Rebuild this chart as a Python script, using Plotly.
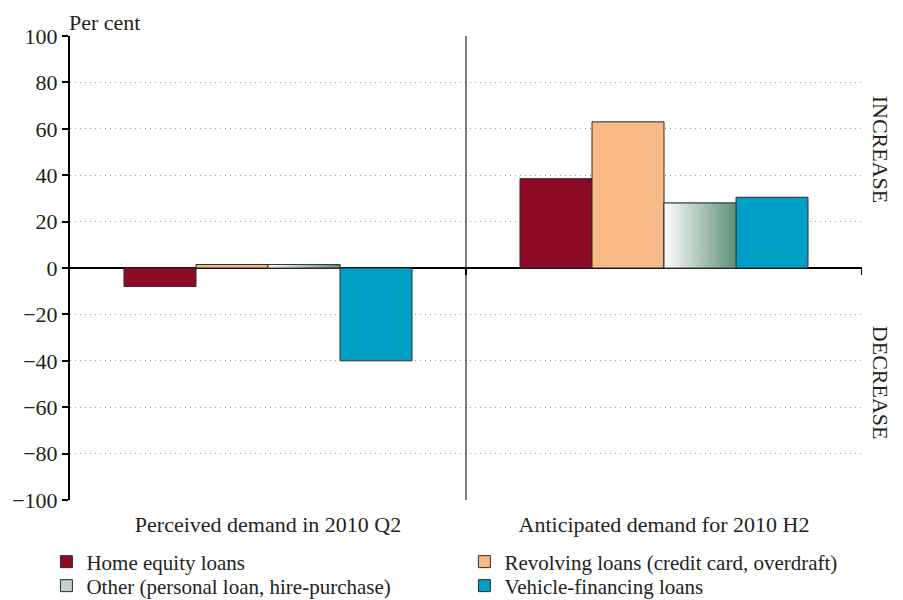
import plotly.graph_objects as go

categories = ["Perceived demand in 2010 Q2", "Anticipated demand for 2010 H2"]
home_equity = [-8, 38.5]
revolving = [1.5, 63]
other = [1.5, 28]
vehicle = [-40, 30.5]
y_ticks = [-100, -80, -60, -40, -20, 0, 20, 40, 60, 80, 100]

FONT = "Liberation Serif"
TXT = "#231f20"
FS = 22
group_w = 0.7273
bar_w = group_w / 4
offsets = [-group_w / 2 + i * bar_w for i in range(4)]
xpos = list(range(len(categories)))

fig = go.Figure()

def add_bar(vals, name, color, idx, legend):
    fig.add_trace(go.Bar(
        x=xpos, y=vals, name=name, width=bar_w, offset=offsets[idx],
        marker=dict(color=color, line=dict(color="#2b2b2b", width=1)),
        legend=legend,
    ))

add_bar(home_equity, "Home equity loans", "#8c0a26", 0, "legend")
add_bar(revolving, "Revolving loans (credit card, overdraft)", "#f7b985", 1, "legend2")
add_bar(other, "Other (personal loan, hire-purchase)", "#bcd3c5", 2, "legend3")

# gradient overlay for the "Other" bars
for g, v in enumerate(other):
    x0 = xpos[g] + offsets[2]
    x1 = x0 + bar_w
    fig.add_trace(go.Scatter(
        x=[x0, x1, x1, x0, x0], y=[0, 0, v, v, 0],
        mode="lines", fill="toself",
        line=dict(color="#3a3a3a", width=1),
        fillgradient=dict(type="horizontal",
                          colorscale=[[0, "#ffffff"], [1, "#5d8f74"]]),
        showlegend=False, hoverinfo="skip",
    ))

add_bar(vehicle, "Vehicle-financing loans", "#00a0c6", 3, "legend4")

# divider and small ticks on the zero line
fig.add_shape(type="line", xref="x", yref="y", x0=0.5, x1=0.5, y0=-100, y1=100,
              line=dict(color="black", width=1))
for xv in [0.5, 1.5]:
    fig.add_shape(type="line", xref="x", yref="y", x0=xv, x1=xv, y0=0, y1=-3,
                  line=dict(color="black", width=2))

fig.add_annotation(text="Per cent", xref="paper", yref="paper", x=0, y=1,
                   xanchor="left", yanchor="bottom", xshift=-3, yshift=-1,
                   showarrow=False, font=dict(family=FONT, size=FS, color=TXT))
fig.add_annotation(text="INCREASE", xref="paper", yref="y", x=1.0227, y=51,
                   xanchor="center", yanchor="middle",
                   textangle=90, showarrow=False,
                   font=dict(family=FONT, size=FS, color=TXT))
fig.add_annotation(text="DECREASE", xref="paper", yref="y", x=1.0227, y=-49.5,
                   xanchor="center", yanchor="middle",
                   textangle=90, showarrow=False,
                   font=dict(family=FONT, size=FS, color=TXT))

leg_common = dict(xref="container", yref="container", xanchor="left",
                  yanchor="middle", orientation="v", itemwidth=30,
                  font=dict(family=FONT, size=21, color=TXT),
                  bgcolor="rgba(0,0,0,0)", borderwidth=0)

fig.update_layout(
    width=903, height=600,
    margin=dict(l=70, r=41, t=36, b=100, autoexpand=False),
    plot_bgcolor="white", paper_bgcolor="white",
    barmode="overlay",
    font=dict(family=FONT, size=FS, color=TXT),
    xaxis=dict(range=[-0.5, 1.5], tickmode="array", tickvals=xpos,
               ticktext=categories, showgrid=False, zeroline=False,
               showline=False, ticks="", ticklabelstandoff=9,
               tickfont=dict(family=FONT, size=FS, color=TXT)),
    yaxis=dict(range=[-100, 100], tickmode="array", tickvals=y_ticks,
               showgrid=True, gridcolor="#9a9a9a", griddash="1px,4px", gridwidth=1,
               zeroline=True, zerolinecolor="black", zerolinewidth=2,
               showline=True, linecolor="black", linewidth=2,
               ticks="outside", ticklen=6, tickwidth=2, tickcolor="black",
               tickfont=dict(family=FONT, size=FS, color=TXT)),
    legend=dict(x=46.4 / 903, y=1 - 562 / 600, **leg_common),
    legend2=dict(x=464.4 / 903, y=1 - 562 / 600, **leg_common),
    legend3=dict(x=46.4 / 903, y=1 - 586 / 600, **leg_common),
    legend4=dict(x=464.4 / 903, y=1 - 586 / 600, **leg_common),
)

fig.write_html("out.html")
